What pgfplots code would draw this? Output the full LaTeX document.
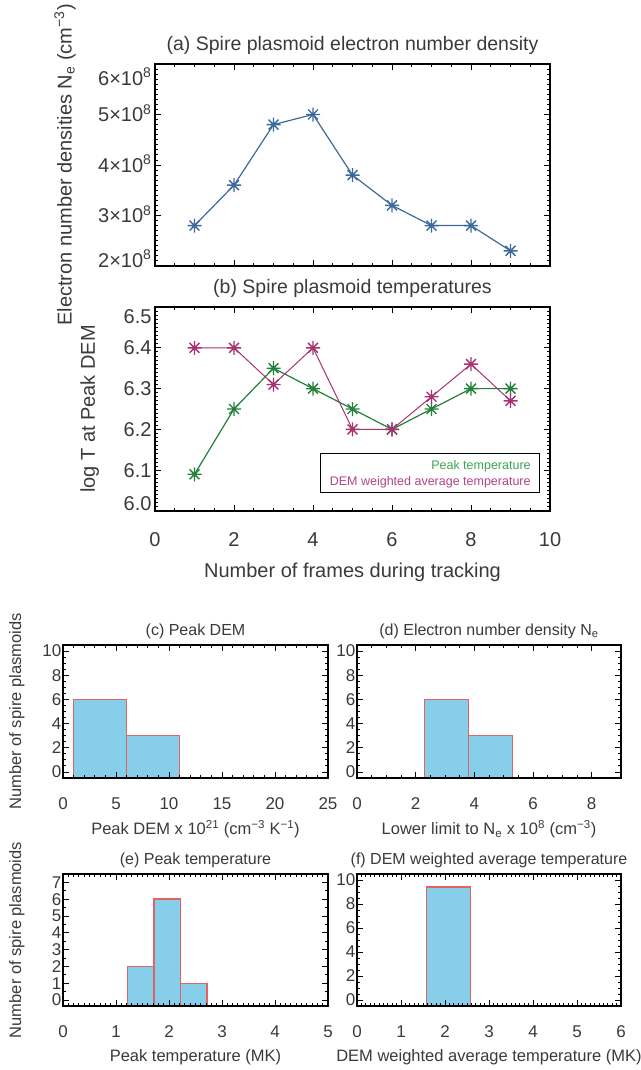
\documentclass[border=0pt]{standalone}
\usepackage{pgfplots}
\pgfplotsset{compat=1.18}
\usepackage{fontspec}
\setmainfont{Liberation Sans}
\definecolor{txt}{HTML}{3A3A3A}
\definecolor{cblue}{HTML}{3D6A9B}
\definecolor{cgreen}{HTML}{22803A}
\definecolor{cmag}{HTML}{A8326F}
\definecolor{lgreen}{HTML}{3FA650}
\definecolor{lmag}{HTML}{B5428A}
\definecolor{hfill}{HTML}{87CEEB}
\definecolor{hedge}{HTML}{E06464}

\newcommand\yl[2]{\raisebox{\dimexpr#1-0.358em\relax}[0pt][0pt]{#2}}

\pgfdeclareplotmark{ast8}{%
  \pgfpathmoveto{\pgfqpoint{-\pgfplotmarksize}{0pt}}%
  \pgfpathlineto{\pgfqpoint{\pgfplotmarksize}{0pt}}%
  \pgfpathmoveto{\pgfqpoint{0pt}{-\pgfplotmarksize}}%
  \pgfpathlineto{\pgfqpoint{0pt}{\pgfplotmarksize}}%
  \pgfpathmoveto{\pgfqpoint{-0.7071\pgfplotmarksize}{-0.7071\pgfplotmarksize}}%
  \pgfpathlineto{\pgfqpoint{0.7071\pgfplotmarksize}{0.7071\pgfplotmarksize}}%
  \pgfpathmoveto{\pgfqpoint{-0.7071\pgfplotmarksize}{0.7071\pgfplotmarksize}}%
  \pgfpathlineto{\pgfqpoint{0.7071\pgfplotmarksize}{-0.7071\pgfplotmarksize}}%
  \pgfusepathqstroke}

\pgfplotsset{
  base/.style={scale only axis, anchor=north west,
    axis line style={line width=1.5bp, black},
    tick style={black, line width=0.9bp},
    major tick length=6bp, minor tick length=3bp, tick align=inside,
    title style={text=txt, anchor=center, at={(axis description cs:0.5,1)}},
    label style={text=txt},
    tick label style={text=txt},
    scaled ticks=false,
    /pgf/number format/assume math mode=true},
  toppanel/.style={base, width=395bp,
    tick label style={font=\fontsize{20bp}{22bp}\selectfont},
    label style={font=\fontsize{20bp}{22bp}\selectfont},
    title style={font=\fontsize{19.5bp}{22bp}\selectfont, yshift=13bp},
    xmin=0, xmax=10, xtick={0,2,4,6,8,10}, minor x tick num=3,
    minor y tick num=9},
  hist/.style={base, axis on top,
    tick label style={font=\fontsize{17bp}{19bp}\selectfont},
    label style={font=\fontsize{16.5bp}{19bp}\selectfont},
    title style={font=\fontsize{16bp}{19bp}\selectfont, yshift=8bp},
    yticklabel style={inner xsep=1.5bp},
    xticklabel style={anchor=center, yshift=-26bp},
    xlabel style={at={(axis description cs:0.5,0)}, anchor=center, yshift=-51bp},
    ylabel style={at={(axis description cs:-0.174,0.5)}, anchor=center},
    ylabel={Number of spire plasmoids}},
  bar/.style={fill=hfill, draw=hedge, line width=1.5bp},
  mk/.style={mark=ast8, mark size=7bp, mark options={line width=1.4bp}}
}

\begin{document}
\begin{tikzpicture}
\useasboundingbox (0bp,0bp) rectangle (641bp,-1070bp);

% (a)
\begin{axis}[toppanel, at={(155bp,-64bp)}, height=202bp,
  ymin=2e8, ymax=6e8,
  ytick={2e8,3e8,4e8,5e8,6e8},
  yticklabels={\yl{6bp}{2×10\textsuperscript{8}},\yl{0bp}{3×10\textsuperscript{8}},\yl{0bp}{4×10\textsuperscript{8}},\yl{0bp}{5×10\textsuperscript{8}},\yl{-14bp}{6×10\textsuperscript{8}}},
  xticklabels={},
  title={(a) Spire plasmoid electron number density},
  ylabel={Electron number densities N\textsubscript{e} (cm\textsuperscript{−3})},
  ylabel style={at={(axis description cs:-0.228,0.5)}, anchor=center}]
\addplot[cblue, line width=1.2bp, mk]
  coordinates {(1,2.8e8) (2,3.6e8) (3,4.8e8) (4,5.0e8) (5,3.8e8) (6,3.2e8) (7,2.8e8) (8,2.8e8) (9,2.3e8)};
\end{axis}

% (b)
\begin{axis}[toppanel, at={(155bp,-307bp)}, height=204bp,
  ymin=6.0, ymax=6.5, ytick={6.0,6.1,6.2,6.3,6.4,6.5},
  yticklabels={\yl{8bp}{6.0},\yl{0bp}{6.1},\yl{0bp}{6.2},\yl{0bp}{6.3},\yl{0bp}{6.4},\yl{-9bp}{6.5}},
  xticklabel style={anchor=center, yshift=-29bp},
  title={(b) Spire plasmoid temperatures},
  xlabel={Number of frames during tracking},
  xlabel style={at={(axis description cs:0.5,0)}, anchor=center, yshift=-61bp},
  ylabel={log T at Peak DEM},
  ylabel style={at={(axis description cs:-0.165,0.5)}, anchor=center},
  legend image code/.code={},
  legend cell align=right,
  legend style={at={(axis description cs:0.975,0.088)}, anchor=south east,
    draw=black, line width=1bp, font=\fontsize{12.5bp}{14bp}\selectfont,
    inner xsep=7bp, inner ysep=4bp, row sep=1.5bp}]
\addplot[cgreen, line width=1.2bp, mk]
  coordinates {(1,6.09) (2,6.25) (3,6.35) (4,6.30) (5,6.25) (6,6.20) (7,6.25) (8,6.30) (9,6.30)};
\addlegendentry{\textcolor{lgreen}{Peak temperature}}
\addplot[cmag, line width=1.0bp, mk]
  coordinates {(1,6.40) (2,6.40) (3,6.31) (4,6.40) (5,6.20) (6,6.20) (7,6.28) (8,6.36) (9,6.27)};
\addlegendentry{\textcolor{lmag}{DEM weighted average temperature}}
\end{axis}

% (c)
\begin{axis}[hist, at={(63bp,-645bp)}, width=265bp, height=133bp,
  xmin=0, xmax=25, xtick={0,5,10,15,20,25}, minor x tick num=4,
  ymin=-0.5, ymax=10.5, ytick={0,2,4,6,8,10}, minor y tick num=3,
  title={(c) Peak DEM},
  xlabel={Peak DEM x 10\textsuperscript{21} (cm\textsuperscript{−3} K\textsuperscript{−1})}]
\addplot[bar] coordinates {(1,-0.5) (1,6) (6,6) (6,-0.5)} -- cycle;
\addplot[bar] coordinates {(6,-0.5) (6,3) (11,3) (11,-0.5)} -- cycle;
\end{axis}

% (d)
\begin{axis}[hist, at={(357bp,-645bp)}, width=264bp, height=133bp,
  xmin=0, xmax=9, xtick={0,2,4,6,8}, minor x tick num=3,
  ymin=-0.5, ymax=10.5, ytick={0,2,4,6,8,10}, minor y tick num=3,
  ylabel={},
  title={(d) Electron number density N\textsubscript{e}},
  xlabel={Lower limit to N\textsubscript{e} x 10\textsuperscript{8} (cm\textsuperscript{−3})}]
\addplot[bar] coordinates {(2.3,-0.5) (2.3,6) (3.8,6) (3.8,-0.5)} -- cycle;
\addplot[bar] coordinates {(3.8,-0.5) (3.8,3) (5.3,3) (5.3,-0.5)} -- cycle;
\end{axis}

% (e)
\begin{axis}[hist, at={(63bp,-874bp)}, width=265bp, height=132bp,
  xmin=0, xmax=5, xtick={0,1,2,3,4,5}, minor x tick num=9,
  ymin=-0.35, ymax=7.5, ytick={0,1,2,3,4,5,6,7}, minor y tick num=1,
  title={(e) Peak temperature},
  xlabel={Peak temperature (MK)}]
\addplot[bar] coordinates {(1.22,-0.35) (1.22,2) (1.72,2) (1.72,-0.35)} -- cycle;
\addplot[bar] coordinates {(1.72,-0.35) (1.72,6) (2.22,6) (2.22,-0.35)} -- cycle;
\addplot[bar] coordinates {(2.22,-0.35) (2.22,1) (2.72,1) (2.72,-0.35)} -- cycle;
\end{axis}

% (f)
\begin{axis}[hist, at={(357bp,-874bp)}, width=264bp, height=132bp,
  xmin=0, xmax=6, xtick={0,1,2,3,4,5,6}, minor x tick num=9,
  ymin=-0.5, ymax=10.5, ytick={0,2,4,6,8,10}, minor y tick num=3,
  ylabel={},
  title={(f) DEM weighted average temperature},
  xlabel={DEM weighted average temperature (MK)}]
\addplot[bar] coordinates {(1.58,-0.5) (1.58,9.4) (2.58,9.4) (2.58,-0.5)} -- cycle;
\end{axis}
\end{tikzpicture}
\end{document}
